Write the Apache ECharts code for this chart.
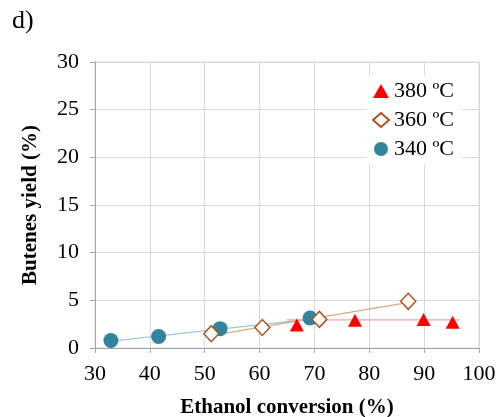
<!DOCTYPE html>
<html><head><meta charset="utf-8">
<script src="https://cdn.jsdelivr.net/npm/echarts@6/dist/echarts.min.js"></script>
<style>html,body{margin:0;padding:0;background:#fff}#c{width:499px;height:417px}</style>
</head><body><div id="c"></div>
<script>
var seriesNames = ['380 ºC', '360 ºC', '340 ºC'];
var s380 = [[66.8, 2.4], [77.4, 2.9], [89.9, 3.0], [95.2, 2.7]];
var s360 = [[51.2, 1.5], [60.5, 2.15], [70.9, 3.0], [87.1, 4.9]];
var s340 = [[32.9, 0.78], [41.6, 1.2], [52.8, 2.03], [69.2, 3.15]];
var trend380 = [[65, 2.95], [96.5, 2.95]];
var trend360 = [[51.5, 1.35], [87, 4.75]];
var trend340 = [[33, 0.72], [69.2, 3.02]];
var xTicks = [30, 40, 50, 60, 70, 80, 90, 100];
var yTicks = [0, 5, 10, 15, 20, 25, 30];

var font = 'Liberation Serif';
var chart = echarts.init(document.getElementById('c'), null, {renderer: 'canvas'});
chart.setOption({
  animation: false,
  backgroundColor: '#fff',
  graphic: [{type: 'text', left: 12, top: 8, style: {text: 'd)', fontFamily: font, fontSize: 26, fill: '#000'}}],
  grid: {left: 95, right: 20, top: 62, bottom: 69, show: true, borderColor: '#d9d9d9', borderWidth: 1,
    containLabel: false, outerBoundsMode: 'none'},
  legend: {
    data: seriesNames, orient: 'vertical', left: 366, top: 76,
    backgroundColor: '#fff', padding: [4, 8, 4, 6], itemGap: 7, itemWidth: 16, itemHeight: 14,
    textStyle: {fontFamily: font, fontSize: 22, color: '#000'}
  },
  xAxis: {
    type: 'value', min: xTicks[0], max: xTicks[xTicks.length - 1], interval: 10,
    name: 'Ethanol conversion (%)', nameLocation: 'middle', nameGap: 49,
    nameTextStyle: {fontFamily: font, fontSize: 21, fontWeight: 'bold', color: '#000'},
    axisLine: {lineStyle: {color: '#a6a6a6', width: 1}},
    axisTick: {show: true, length: 5, lineStyle: {color: '#a6a6a6'}},
    axisLabel: {fontFamily: font, fontSize: 22, color: '#000', margin: 15},
    splitLine: {show: true, lineStyle: {color: '#d9d9d9'}}
  },
  yAxis: {
    type: 'value', min: yTicks[0], max: yTicks[yTicks.length - 1], interval: 5,
    name: 'Butenes yield (%)', nameLocation: 'middle', nameGap: 54,
    nameTextStyle: {fontFamily: font, fontSize: 21, fontWeight: 'bold', color: '#000'},
    axisLine: {show: true, lineStyle: {color: '#a6a6a6', width: 1}},
    axisTick: {show: true, length: 5, lineStyle: {color: '#a6a6a6'}},
    axisLabel: {fontFamily: font, fontSize: 22, color: '#000', margin: 16},
    splitLine: {show: true, lineStyle: {color: '#d9d9d9'}}
  },
  series: [
    {type: 'line', data: trend340, symbol: 'none', lineStyle: {color: '#9cc8d4', width: 1.2}, z: 1, silent: true},
    {type: 'line', data: trend360, symbol: 'none', lineStyle: {color: '#d9a982', width: 1.2}, z: 1, silent: true},
    {type: 'line', data: trend380, symbol: 'none', lineStyle: {color: '#f5a3a3', width: 1.2}, z: 1, silent: true},
    {name: seriesNames[2], type: 'scatter', data: s340, symbol: 'circle', symbolSize: 15,
      itemStyle: {color: '#31849b', opacity: 1}, z: 3},
    {name: seriesNames[1], type: 'scatter', data: s360, symbol: 'diamond', symbolSize: [15, 16],
      itemStyle: {color: '#fff', borderColor: '#a8541f', borderWidth: 1.5, opacity: 1}, z: 3},
    {name: seriesNames[0], type: 'scatter', data: s380, symbol: 'triangle', symbolSize: [14, 13],
      itemStyle: {color: '#ff0000', opacity: 1}, z: 3}
  ]
});
</script></body></html>
